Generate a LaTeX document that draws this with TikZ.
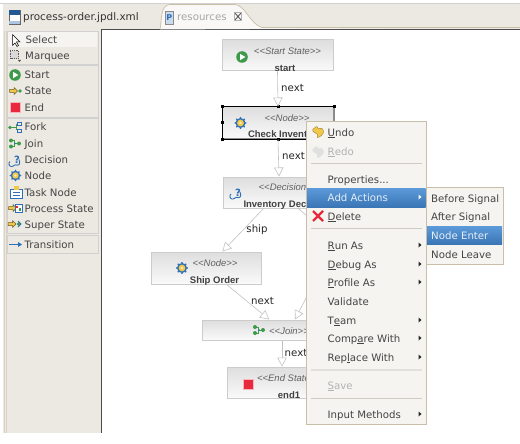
\documentclass[tikz,border=0pt]{standalone}
\usepackage{fontspec}
\setmainfont{DejaVu Sans}
\newfontfamily\lib{Liberation Sans}
\usetikzlibrary{arrows.meta,calc,shapes.geometric}
\definecolor{bgc}{HTML}{ECE9E2}
\definecolor{menuc}{HTML}{F6F4F0}
\definecolor{menub}{HTML}{C9BFA8}
\definecolor{selc}{HTML}{4A8BCB}
\definecolor{selt}{HTML}{5D9ADA}
\definecolor{selb}{HTML}{3A76B5}
\definecolor{sepc}{HTML}{CFCBC2}
\definecolor{ptxt}{HTML}{444444}
\definecolor{dgreen}{HTML}{3E9A4B}
\definecolor{gblue}{HTML}{2F6FB8}
\definecolor{gyel}{HTML}{F2C84B}
\definecolor{redc}{HTML}{E8283C}
\newcommand{\ulc}[1]{\underline{#1}}
\newcommand{\sz}[1]{\fontsize{#1}{#1}\selectfont}
\tikzset{
 pal/.style={anchor=base west,inner sep=0pt,text=ptxt,font=\sz{10.2}},
 mi/.style={anchor=base west,inner sep=0pt,text=ptxt,font=\sz{10.2}},
 sec/.style={draw=#1,fill=bgc,line width=.7pt},
 box/.style={rectangle,draw=black!20,line width=1pt,top color=black!13,bottom color=black!2,inner sep=0pt},
 ty/.style={inner sep=0pt,text=black!62,font=\lib\itshape\sz{9.5}},
 nm/.style={inner sep=0pt,text=black!75,font=\lib\bfseries\sz{9.5}},
 edge/.style={draw=black!24,line width=.6pt,-{Triangle[open,fill=white,length=9pt,width=9.5pt]}},
 elab/.style={inner sep=0pt,font=\sz{10.2},text=black!85},
 sep/.style={draw=sepc,line width=.8pt},
 hd/.style={fill=black,inner sep=0pt,minimum size=3pt},
 gearic/.pic={
   \fill[gblue] (0,0) circle (5.6pt);
   \foreach \a in {0,45,...,315}{\fill[gblue] (\a:5.8pt) circle (1pt);}
   \fill[gyel] (0,0) circle (3.8pt);
   \fill[white!60!gyel] (0,0) circle (1.6pt);},
 decic/.pic={
   \draw[gblue,line width=.9pt,rounded corners=1pt] (-5,1)--(-6.5,3)--(-5,6)--(-2,6)--(0,4)--(3,5)--(5,3)--(4,-1);
   \node[inner sep=0pt,text=gblue,font=\bfseries\sz{10}] at (2,-.5) {?};},
 endic/.pic={
   \fill[redc!35] (-5.5,-5.5) rectangle (5.5,5.5);
   \fill[redc] (-4.5,-4.5) rectangle (4.5,4.5);},
 startic/.pic={
   \fill[dgreen] (0,0) circle (5.8pt);
   \fill[white] (-2,-3.2)--(3.4,0)--(-2,3.2)--cycle;},
 joinic/.pic={
   \draw[dgreen,line width=.6pt] (-4,-3)--(-1,-3)--(-1,3)--(-4,3) (-1,0)--(4,0);
   \fill[dgreen] (-4,-3) circle (2pt) (-4,3) circle (2pt) (4,0) circle (2pt);
   \fill[gblue] (0,0) circle (.9pt);},
 forkic/.pic={
   \draw[dgreen,line width=.6pt] (-4,0)--(1,0)  (1,-3)--(1,3);
   \fill[dgreen] (-5,0) circle (1.8pt);
   \draw[gblue,line width=.6pt] (2,-5) rectangle (6,-2) (2,2) rectangle (6,5);},
 stateic/.pic={
   \filldraw[fill=gyel,draw=black!55!gyel,line width=.5pt] (-6,-1.5)--(-1.5,-1.5)--(-1.5,-3.5)--(2,0)--(-1.5,3.5)--(-1.5,1.5)--(-6,1.5)--cycle;
   \fill[dgreen] (4.5,0) circle (1.8pt);},
 undoic/.pic={
   \filldraw[fill=#1,draw=black!35!#1,line width=.4pt,rounded corners=1pt] (-6,-1)--(-1,-5)--(0,-2)--(4,-3)--(6,1)--(3,5)--(-1,7)--(0,3)--(-3,2)--cycle;},
}
\begin{document}
\begin{tikzpicture}[x=1pt,y=-1pt]
\useasboundingbox (0,0) rectangle (520,444);
% window background
\fill[white] (0,0) rectangle (520,444);
\fill[bgc] (3,3) rectangle (520,30);
\fill[bgc] (3,30) rectangle (102,433);
\draw[black!18,line width=1pt] (0,3.5)--(520,3.5);
\draw[menub!70,line width=.8pt] (4.5,31)--(4.5,433);
\draw[menub!70,line width=.8pt] (6.5,31)--(6.5,433);
\draw[black!70,line width=1pt] (101.5,30)--(101.5,433);
\draw[black!70,line width=1pt] (101,30)--(520,30);
% tabs
\draw[menub,line width=.7pt,fill=menuc!60!white] (160,29.5) .. controls (162,20) and (160,5) .. (170,4.5) -- (235,4.5) .. controls (245,5) and (250,24) .. (262,27.5) -- (520,27.5);
\draw[black!60,fill=white,line width=.6pt] (9,10) rectangle (20,24);
\fill[gblue!80!black] (9,10) rectangle (20,15);
\fill[white!60!gblue] (9,21) rectangle (20,24);
\node[inner sep=0pt,anchor=base west,font=\sz{10.4},text=black!80] (tabA) at (23,21) {process-order.jpdl.xml};
\filldraw[draw=black!45,fill=gblue!25,line width=.6pt] (165,11) rectangle (173.5,24);
\node[inner sep=0pt,font=\bfseries\sz{8},text=gblue] (tabP) at (169.2,17.5) {P};
\node[inner sep=0pt,anchor=base west,font=\sz{10.2},text=black!35] (tabB) at (177,21) {resources};
\draw[black!65,line width=.9pt] (235,13)--(241,20) (241,13)--(235,20);
\draw[black!30,line width=.7pt] (234.5,12.5) rectangle (241.5,20.5);
% palette sections
\draw[sec=black!18] (7.5,31.5) rectangle (98.5,64);
\draw[sec=black!18] (7.5,65.5) rectangle (98.5,117);
\draw[sec=black!18] (7.5,118.5) rectangle (98.5,233.5);
\draw[sec=black!18] (7.5,235) rectangle (98.5,253);
\fill[menuc] (8,32) rectangle (97,47);
% palette icons
\filldraw[draw=black,fill=white,line width=.5pt] (12.5,34.5)--(12.5,45.5)--(15,43)--(17,46.5)--(18.5,45.5)--(16.5,42)--(20,42)--cycle;
\draw[black!65,dash pattern=on 1.5pt off .8pt,line width=1pt,fill=black!15] (10,51) rectangle (18.5,59);
\fill[black!70] (18,60)--(21,60)--(19.5,62)--cycle;
\pic at (15,75) {startic};
\pic at (15.5,91) {stateic};
\pic at (15.5,107.5) {endic};
\pic at (15,127.5) {forkic};
\pic at (15,143.5) {joinic};
\pic at (15,160.5) {decic};
\pic[scale=.85] at (15.5,175.5) {gearic};
\filldraw[draw=gblue,fill=white,line width=.5pt] (10.5,189)--(22,189)--(22,198)--(10.5,198)--cycle;
\fill[gyel] (14,186) rectangle (19,190);
\draw[gblue,line width=.7pt] (13,192)--(20,192) (13,195)--(20,195);
\pic at (14.5,208) {stateic};
\filldraw[draw=gblue,fill=white,line width=.4pt] (15,204.5) rectangle (22,212);
\fill[redc] (16,205.5) rectangle (18,208);
\fill[dgreen] (19,208) rectangle (21,211);
\pic at (14,224) {stateic};
\draw[gblue,line width=.9pt] (18,221)--(21,224)--(18,227);
\draw[gblue,line width=.8pt] (9,244.5)--(19,244.5);
\fill[gblue] (18,242)--(22,244.5)--(18,247)--cycle;
% palette text
\node[pal] (pSelect) at (25.5,44) {Select};
\node[pal] (pMarquee) at (25,59.5) {Marquee};
\node[pal] (pStart) at (24.5,79) {Start};
\node[pal] (pState) at (24.5,95) {State};
\node[pal] (pEnd) at (24.5,111) {End};
\node[pal] (pFork) at (24.5,131) {Fork};
\node[pal] (pJoin) at (24.5,147) {Join};
\node[pal] (pDecision) at (24.5,163) {Decision};
\node[pal] (pNode) at (24.5,179) {Node};
\node[pal] (pTask) at (24.5,196) {Task Node};
\node[pal] (pProcess) at (24.5,212) {Process State};
\node[pal] (pSuper) at (24.5,228) {Super State};
\node[pal] (pTrans) at (24.5,248) {Transition};
% diagram boxes
\node[box,minimum width=111pt,minimum height=31pt] (start) at (277.5,55.5) {};
\node[box,draw=black,minimum width=111pt,minimum height=32pt] (check) at (278,123) {};
\node[box,minimum width=112pt,minimum height=31pt] (dec) at (279,192.5) {};
\node[box,minimum width=110pt,minimum height=32pt] (ship) at (206.5,268) {};
\node[box,minimum width=160pt,minimum height=20pt] (join) at (282,330) {};
\node[box,minimum width=110pt,minimum height=31pt] (endn) at (282,382.5) {};
\draw[black!45,line width=1.2pt] (222.5,138.8)--(334,138.8) (334,107)--(334,139);
% node contents
\pic at (242,57) {startic};
\pic[scale=.9] at (240.5,123) {gearic};
\pic at (236,193) {decic};
\pic[scale=.9] at (182,268) {gearic};
\pic at (259,330) {joinic};
\pic at (248.5,384) {endic};
\node[ty] (tStart) at (287.5,51) {<<Start State>>};
\node[ty] (tCheck) at (287,118.5) {<<Node>>};
\node[ty] (tDec) at (288,187.5) {<<Decision>>};
\node[ty] (tShip) at (215,263.5) {<<Node>>};
\node[ty] (tJoin) at (289,331.5) {<<Join>>};
\node[ty] (tEnd) at (289,378) {<<End State>>};
\begin{scope}\clip (start.south west) rectangle (start.north east);
\node[nm] (nStart) at (285,68) {start};\end{scope}
\begin{scope}\clip (check.south west) rectangle (check.north east);
\node[nm] (nCheck) at (285,135) {Check Inventory};\end{scope}
\begin{scope}\clip (dec.south west) rectangle (dec.north east);
\node[nm] (nDec) at (286,205) {Inventory Decision};\end{scope}
\begin{scope}\clip (ship.south west) rectangle (ship.north east);
\node[nm] (nShip) at (214.5,281) {Ship Order};\end{scope}
\node[nm] (nEnd) at (289,395) {end1};
% handles
\node[hd] (h1) at (check.north west) {};
\node[hd] (h2) at (check.north) {};
\node[hd] (h3) at (check.north east) {};
\node[hd] (h4) at (check.west) {};
\node[hd] (h5) at (check.south west) {};
\node[hd] (h6) at (check.south) {};
% connectors
\coordinate (bend) at (336,240);
\draw[edge] (start.south) -- (check.north);
\draw[edge] (check.south) -- (dec.north);
\draw[edge] (dec) -- (ship);
\draw[edge] (ship) -- (join);
\draw[edge] (dec) -- (bend) -- ([xshift=13pt]join.north);
\draw[edge] (join.south) -- (endn.north);
\node[elab] (l1) at (292.5,88) {next};
\node[elab] (l2) at (293.5,156) {next};
\node[elab] (l3) at (257,229.5) {ship};
\node[elab] (l4) at (262.5,301) {next};
\node[elab] (l5) at (296,353) {next};
% context menu
\filldraw[draw=menub,fill=menuc,line width=1pt] (306,121.5) rectangle (426,424);
\shade[top color=selt,bottom color=selb] (307,188) rectangle (425.5,207);
\draw[sep] (311,163.5)--(422,163.5);
\draw[sep] (311,228.5)--(422,228.5);
\draw[sep,line width=1.3pt,draw=sepc!60] (311,370)--(422,370);
\draw[sep] (311,398)--(422,398);
\pic at (318,131) {undoic=gyel};
\pic at (318,151) {undoic=black!12};
\draw[redc,line width=2.2pt] (313,211)--(323,221) (323,211)--(313,221);
\node[mi] (mUndo) at (327.5,136) {\ulc{U}ndo};
\node[mi,text=black!30] (mRedo) at (327.5,155) {\ulc{R}edo};
\node[mi] (mProp) at (327.5,183) {Properties...};
\node[mi,text=white!85!selc] (mAdd) at (327.5,201) {Add Actions};
\node[mi] (mDel) at (327.5,220) {\ulc{D}elete};
\node[mi] (mRun) at (327.5,249) {\ulc{R}un As};
\node[mi] (mDebug) at (327.5,268) {\ulc{D}ebug As};
\node[mi] (mProfile) at (327.5,286) {\ulc{P}rofile As};
\node[mi] (mVal) at (327.5,305) {Validate};
\node[mi] (mTeam) at (327.5,324) {T\ulc{e}am};
\node[mi] (mComp) at (327.5,342) {Comp\ulc{a}re With};
\node[mi] (mRep) at (327.5,361) {Rep\ulc{l}ace With};
\node[mi,text=black!30] (mSave) at (327.5,389) {\ulc{S}ave};
\node[mi] (mInput) at (327.5,418) {Input Methods};
\fill[white] (418.5,194.5)--(421.5,197)--(418.5,199.5)--cycle;
\foreach \yy in {245,264,282,320,338,357,414}{\fill[black!85] (418.5,\yy-2.5)--(421.5,\yy)--(418.5,\yy+2.5)--cycle;}
% submenu
\filldraw[draw=menub,fill=menuc,line width=1pt] (426,187.5) rectangle (503,264);
\shade[top color=selt,bottom color=selb] (427,226) rectangle (502,244);
\node[mi] (sBefore) at (431,202) {Before Signal};
\node[mi] (sAfter) at (431,220) {After Signal};
\node[mi,text=white!85!selc] (sEnter) at (431,239) {Node Enter};
\node[mi] (sLeave) at (431,258) {Node Leave};
\end{tikzpicture}
\end{document}
